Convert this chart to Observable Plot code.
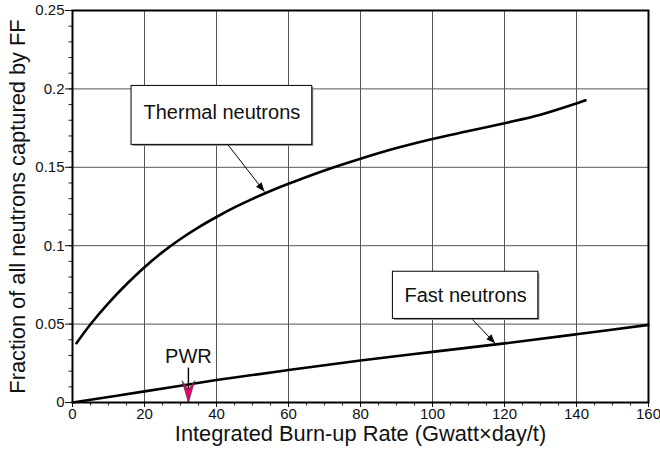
<!DOCTYPE html>
<html>
<head>
<meta charset="utf-8">
<script src="https://cdn.jsdelivr.net/npm/d3@7"></script>
<script src="https://cdn.jsdelivr.net/npm/@observablehq/plot@0.6"></script>
<style>
  html, body { margin: 0; padding: 0; background: #fff; }
  svg { font-family: "Liberation Sans", Arial, sans-serif; }
</style>
</head>
<body>
<div id="chart"></div>
<script>
// ---- data ----
const thermalX = [1.1, 5, 10, 15, 20, 25, 30, 35, 40, 45, 50, 55, 60, 70, 80, 90, 100, 110, 120, 130, 140, 142.5];
const thermalY = [0.0378, 0.0499, 0.0634, 0.0754, 0.0863, 0.0959, 0.1043, 0.1117, 0.1183, 0.1244, 0.1299, 0.1349, 0.1395, 0.148, 0.1555, 0.1623, 0.1681, 0.1731, 0.1781, 0.1835, 0.1907, 0.1927];

const fastX = [0, 20, 40, 60, 80, 100, 120, 140, 160];
const fastY = [0, 0.0071, 0.0143, 0.0207, 0.0268, 0.0323, 0.0377, 0.0435, 0.0495];

const xTicks = [0, 20, 40, 60, 80, 100, 120, 140, 160];
const yTicks = [0, 0.05, 0.1, 0.15, 0.2, 0.25];
const xMinor = d3.range(0, 161, 5);
const yMinor = d3.range(0, 26, 1).map(d => d / 100);

// annotation boxes (data units)
const boxLabels = ["Thermal neutrons", "Fast neutrons"];
const boxX1 = [16.4, 89.0];
const boxX2 = [66.6, 129.4];
const boxY1 = [0.1643, 0.0533];
const boxY2 = [0.2019, 0.0834];
const boxTextX = [41.5, 109.2];
const boxTextY = [0.1847, 0.0684];
// leader arrows (data units)
const arrowX1 = [43.2, 111.1];
const arrowY1 = [0.1643, 0.0529];
const arrowX2 = [53.3, 117.4];
const arrowY2 = [0.1345, 0.0378];

// PWR marker
const pwrLabel = "PWR";
const pwrX = 32.2;
const pwrTextY = 0.0252;
const pwrArrowY1 = 0.0223;
const pwrArrowY2 = 0.0;

const xTitle = "Integrated Burn-up Rate (Gwatt×day/t)";
const yTitle = "Fraction of all neutrons captured by FF";

// ---- tables ----
const thermal = thermalX.map((x, i) => ({x, y: thermalY[i]}));
const fast = fastX.map((x, i) => ({x, y: fastY[i]}));
const boxes = boxLabels.map((label, i) => ({
  label, x1: boxX1[i], x2: boxX2[i], y1: boxY1[i], y2: boxY2[i],
  tx: boxTextX[i], ty: boxTextY[i],
  ax1: arrowX1[i], ay1: arrowY1[i], ax2: arrowX2[i], ay2: arrowY2[i]
}));

function makeMarker(fill, stroke, len, half, notch, sw) {
  return (color, context) => {
    const doc = (context && context.document) || document;
    const m = doc.createElementNS("http://www.w3.org/2000/svg", "marker");
    m.setAttribute("viewBox", `${-40} ${-20} 80 40`);
    m.setAttribute("markerWidth", 80);
    m.setAttribute("markerHeight", 40);
    m.setAttribute("markerUnits", "userSpaceOnUse");
    m.setAttribute("refX", 0);
    m.setAttribute("refY", 0);
    m.setAttribute("orient", "auto");
    const p = doc.createElementNS("http://www.w3.org/2000/svg", "path");
    p.setAttribute("d", `M0,0L${-len},${-half}L${-notch},0L${-len},${half}Z`);
    p.setAttribute("fill", fill);
    p.setAttribute("stroke", stroke);
    p.setAttribute("stroke-width", sw);
    p.setAttribute("stroke-linejoin", "miter");
    m.appendChild(p);
    return m;
  };
}
const blackHead = makeMarker("black", "none", 9, 3.5, 9, 0);
const pinkHead = makeMarker("#e8006f", "#333", 22, 6.5, 13, 0.6);

const chart = Plot.plot({
  width: 660,
  height: 454,
  marginLeft: 72,
  marginRight: 12,
  marginTop: 10,
  marginBottom: 52,
  style: {fontFamily: '"Liberation Sans", Arial, sans-serif', background: "white"},
  x: {domain: [0, 160]},
  y: {domain: [0, 0.25]},
  marks: [
    Plot.gridX(xTicks, {stroke: "#555", strokeOpacity: 1, strokeWidth: 1}),
    Plot.gridY(yTicks, {stroke: "#555", strokeOpacity: 1, strokeWidth: 1}),
    Plot.ruleX(xMinor, {x: d => d, y1: () => 0, y2: () => 0, insetBottom: -3.5, stroke: "#222"}),
    Plot.ruleY(yMinor, {y: d => d, x1: () => 0, x2: () => 0, insetLeft: -3.5, stroke: "#222"}),
    Plot.axisX(xTicks, {tickSize: 5, tickPadding: 1, fontSize: 15, label: null, color: "#111", tickFormat: d => String(d)}),
    Plot.axisY(yTicks, {tickSize: 7, tickPadding: 1, fontSize: 15, label: null, color: "#111", tickFormat: d => String(d)}),
    Plot.line(thermal, {x: "x", y: "y", stroke: "black", strokeWidth: 2.6, curve: "catmull-rom"}),
    Plot.line(fast, {x: "x", y: "y", stroke: "black", strokeWidth: 2.6, curve: "catmull-rom"}),
    Plot.rect(boxes, {x1: "x1", x2: "x2", y1: "y1", y2: "y2", fill: "#888", dx: 1.5, dy: 1.5}),
    Plot.rect(boxes, {x1: "x1", x2: "x2", y1: "y1", y2: "y2", fill: "white", stroke: "black", strokeWidth: 1}),
    Plot.text(boxes, {x: "tx", y: "ty", text: "label", fontSize: 20, fill: "#111"}),
    Plot.link(boxes, {x1: "ax1", y1: "ay1", x2: "ax2", y2: "ay2", stroke: "black", strokeWidth: 1, markerEnd: blackHead}),
    Plot.link([pwrX], {x1: d => d, x2: d => d, y1: () => pwrArrowY1, y2: () => pwrArrowY2, stroke: "black", strokeWidth: 1.4, markerEnd: pinkHead}),
    Plot.text([pwrLabel], {x: () => pwrX, y: () => pwrTextY, text: d => d, fontSize: 20, lineAnchor: "bottom", fill: "#111"}),
    Plot.frame({stroke: "black", strokeWidth: 2}),
    Plot.text([xTitle], {frameAnchor: "bottom", textAnchor: "middle", dy: 38, text: d => d, fontSize: 21.8, fill: "#111"}),
    Plot.text([yTitle], {frameAnchor: "left", textAnchor: "middle", dx: -54, rotate: -90, text: d => d, fontSize: 21.8, fill: "#111"})
  ]
});
document.getElementById("chart").appendChild(chart);
</script>
</body>
</html>
